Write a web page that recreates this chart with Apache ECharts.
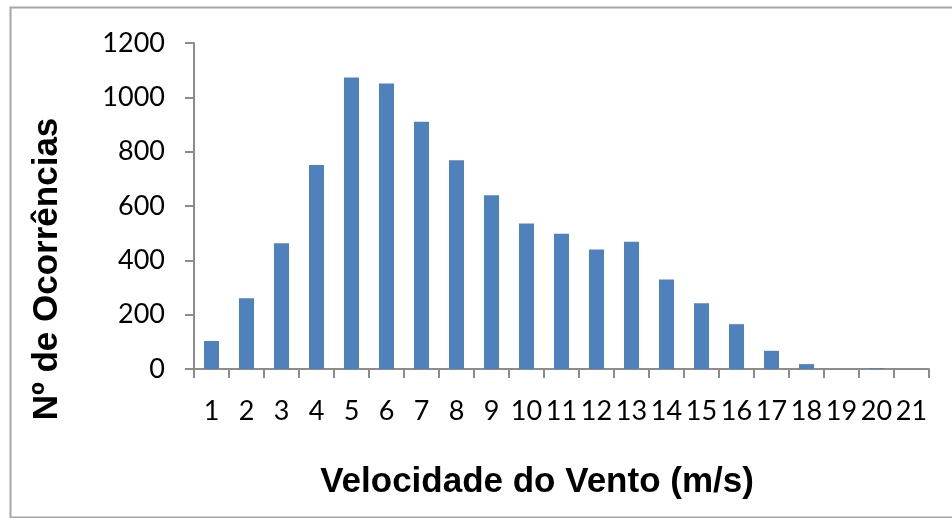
<!DOCTYPE html>
<html>
<head>
<meta charset="utf-8">
<script src="https://cdn.jsdelivr.net/npm/echarts@6/dist/echarts.min.js"></script>
<style>
html,body{margin:0;padding:0;background:#fff;}
#chart{width:952px;height:518px;}
</style>
</head>
<body>
<div id="chart"></div>
<script>
var categories = ['1','2','3','4','5','6','7','8','9','10','11','12','13','14','15','16','17','18','19','20','21'];
var occurrences = [103, 260, 463, 751, 1073, 1051, 910, 768, 640, 536, 498, 440, 468, 329, 242, 165, 67, 18, 0, 3, 0];
var yTitle = 'Nº de Ocorrências';
var xTitle = 'Velocidade do Vento (m/s)';

var chart = echarts.init(document.getElementById('chart'), null, {renderer: 'canvas'});
var axisGrey = '#8c8c8c';
chart.setOption({
  animation: false,
  backgroundColor: '#ffffff',
  grid: {left: 194, top: 43, right: 23, bottom: 149, containLabel: false},
  xAxis: {
    type: 'category',
    data: categories,
    boundaryGap: true,
    axisLine: {show: true, lineStyle: {color: axisGrey, width: 2}},
    axisTick: {show: true, length: 9, alignWithLabel: false, lineStyle: {color: axisGrey, width: 2}},
    axisLabel: {interval: 0, margin: 29, color: '#000', fontFamily: 'Lato', fontSize: 27},
    splitLine: {show: false}
  },
  yAxis: {
    type: 'value',
    min: 0, max: 1200, interval: 200,
    axisLine: {show: true, lineStyle: {color: axisGrey, width: 2}},
    axisTick: {show: true, length: 9, lineStyle: {color: axisGrey, width: 2}},
    axisLabel: {margin: 29, color: '#000', fontFamily: 'Lato', fontSize: 27, formatter: function (v) { return String(v); }},
    splitLine: {show: false}
  },
  series: [{
    type: 'bar',
    data: occurrences,
    barWidth: 15,
    itemStyle: {color: '#4F81BD'}
  }],
  graphic: [
    {type: 'rect', left: 8, top: 5, shape: {width: 960, height: 510}, style: {fill: 'none', stroke: '#a6a6a6', lineWidth: 2}, z: -1},
    {type: 'text', x: 47, y: 269, rotation: Math.PI / 2,
      style: {text: yTitle, font: 'bold 35px "Liberation Sans", Arial, sans-serif', fill: '#000', align: 'center', verticalAlign: 'middle'}},
    {type: 'text', x: 537, y: 482,
      style: {text: xTitle, font: 'bold 35px "Liberation Sans", Arial, sans-serif', fill: '#000', align: 'center', verticalAlign: 'middle'}}
  ]
});
</script>
</body>
</html>
